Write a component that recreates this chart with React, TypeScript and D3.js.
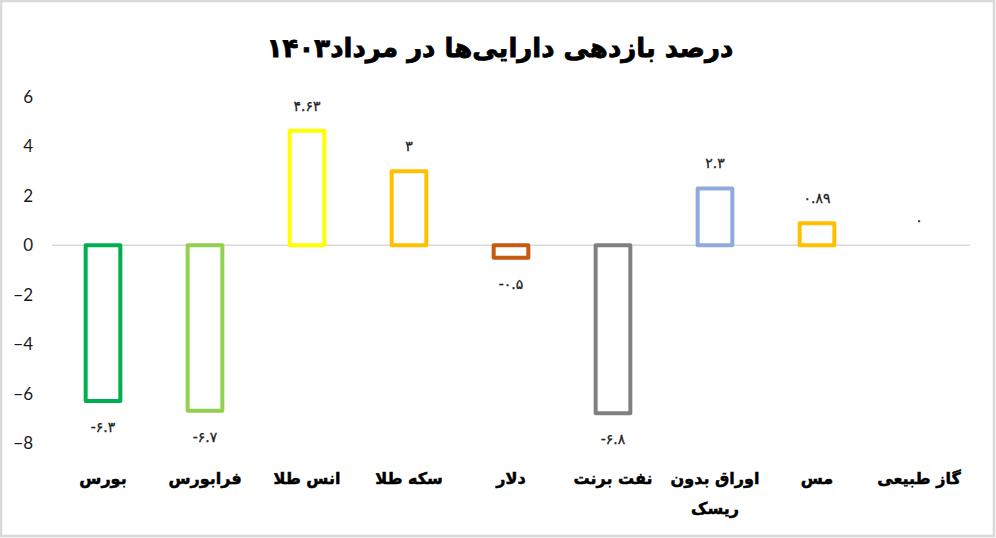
import React, { useEffect, useRef } from "react";
import * as d3 from "d3";

// داده‌ها
const categories = ["بورس", "فرابورس", "انس طلا", "سکه طلا", "دلار", "نفت برنت", "اوراق بدون|ریسک", "مس", "گاز طبیعی"];
const returns = [-6.3, -6.7, 4.63, 3, -0.5, -6.8, 2.3, 0.89, 0];
const barColors = ["#00b050", "#92d050", "#ffff00", "#ffc000", "#c55a11", "#808080", "#8faadc", "#ffc000", "none"];
const yTicks = [6, 4, 2, 0, -2, -4, -6, -8];
const title = "درصد بازدهی دارایی‌ها در مرداد۱۴۰۳";

const width = 996;
const height = 538;
const margin = { top: 97, right: 26, bottom: 95, left: 52 };

const persianDigits = "۰۱۲۳۴۵۶۷۸۹";
const toPersian = (v: number) =>
  String(v).replace(/[0-9]/g, (d) => persianDigits[+d]);

export default function App() {
  const svgRef = useRef<SVGSVGElement>(null);

  useEffect(() => {
    if (svgRef.current === null) return;
    const svg = d3.select(svgRef.current);
    svg.selectAll("*").remove();

    const x = d3
      .scaleBand<number>()
      .domain(categories.map((_, i) => i))
      .range([margin.left, width - margin.right])
      .paddingInner(0.66)
      .paddingOuter(0.33);

    const y = d3
      .scaleLinear()
      .domain([-8, 6])
      .range([height - margin.bottom, margin.top]);

    // frame
    svg
      .append("rect")
      .attr("x", 1)
      .attr("y", 1)
      .attr("width", width - 3)
      .attr("height", height - 3)
      .attr("fill", "#fff")
      .attr("stroke", "#d9d9d9")
      .attr("stroke-width", 2.5);

    // title
    svg
      .append("text")
      .attr("x", 500)
      .attr("y", 57)
      .attr("text-anchor", "middle")
      .attr("font-family", "DejaVu Sans")
      .attr("font-weight", "bold")
      .attr("font-size", 26)
      .attr("stroke", "#000")
      .attr("stroke-width", 0.8)
      .attr("fill", "#000")
      .text(title);

    // y axis labels
    const yAxis = d3.axisLeft(y).tickValues(yTicks).tickSize(0).tickPadding(0);
    const gy = svg
      .append("g")
      .attr("transform", `translate(33,0)`)
      .call(yAxis);
    gy.select(".domain").remove();
    gy.selectAll("text")
      .attr("font-family", "Lato")
      .attr("font-size", 17)
      .attr("fill", "#1a1a1a");

    // zero line
    svg
      .append("line")
      .attr("x1", margin.left)
      .attr("x2", width - margin.right)
      .attr("y1", y(0))
      .attr("y2", y(0))
      .attr("stroke", "#d9d9d9")
      .attr("stroke-width", 1.5);

    // bars (outlined)
    svg
      .append("g")
      .selectAll("rect")
      .data(returns)
      .join("rect")
      .attr("x", (_, i) => (x(i) as number))
      .attr("width", x.bandwidth())
      .attr("y", (d) => y(Math.max(0, d)))
      .attr("height", (d) => Math.abs(y(d) - y(0)))
      .attr("fill", "none")
      .attr("stroke", (_, i) => barColors[i])
      .attr("stroke-width", 4)
      .attr("stroke-linejoin", "round")
      .attr("display", (_, i) => (barColors[i] === "none" ? "none" : null));

    // value labels
    svg
      .append("g")
      .selectAll("text")
      .data(returns)
      .join("text")
      .attr("x", (_, i) => (x(i) as number) + x.bandwidth() / 2)
      .attr("y", (d) => (d < 0 ? y(d) + 31 : y(d) - 20))
      .attr("text-anchor", "middle")
      .attr("font-family", "DejaVu Sans")
      .attr("font-size", 14)
      .attr("stroke", "#222")
      .attr("stroke-width", 0.3)
      .attr("fill", "#222")
      .text((d) => toPersian(d));

    // category labels
    const cats = svg
      .append("g")
      .selectAll("text")
      .data(categories)
      .join("text")
      .attr("x", (_, i) => (x(i) as number) + x.bandwidth() / 2)
      .attr("y", 484)
      .attr("text-anchor", "middle")
      .attr("font-family", "DejaVu Sans")
      .attr("font-weight", "bold")
      .attr("font-size", 16)
      .attr("stroke", "#000")
      .attr("stroke-width", 0.5)
      .attr("fill", "#000");
    cats.each(function (d) {
      const parts = d.split("|");
      const t = d3.select(this);
      parts.forEach((p, k) => {
        t.append("tspan")
          .attr("x", t.attr("x"))
          .attr("dy", k === 0 ? 0 : 30)
          .text(p);
      });
    });
  }, []);

  return (
    <svg
      ref={svgRef}
      width={width}
      height={height}
      style={{ position: "absolute", left: 0, top: 0 }}
    />
  );
}
